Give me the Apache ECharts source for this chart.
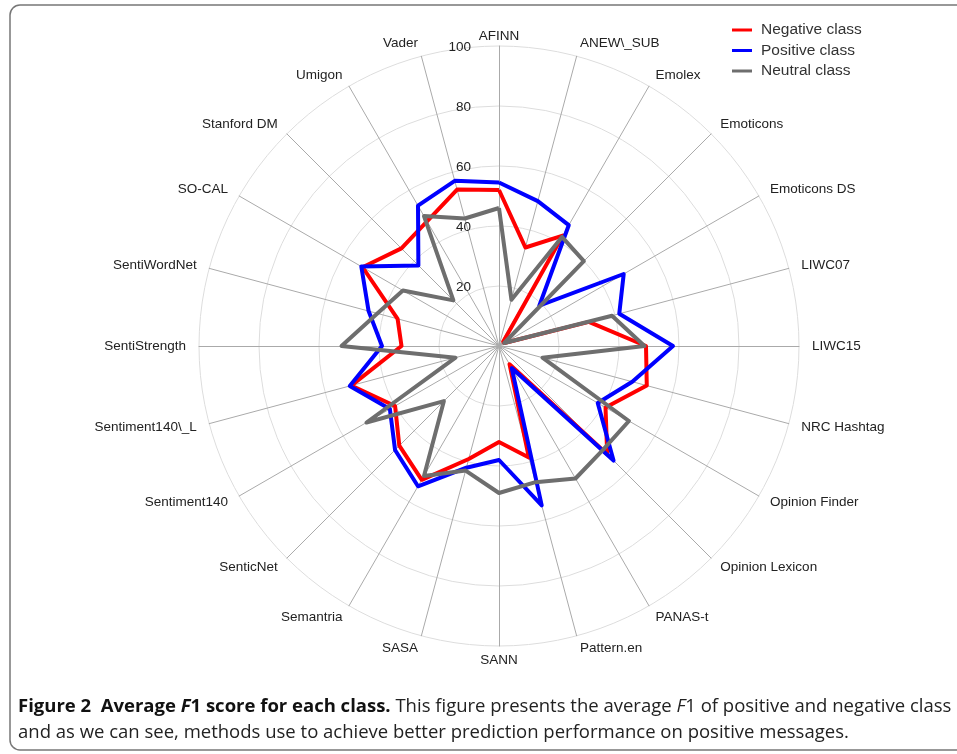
<!DOCTYPE html>
<html>
<head>
<meta charset="utf-8">
<script src="https://cdn.jsdelivr.net/npm/echarts@6/dist/echarts.min.js"></script>
<style>
  html, body { margin: 0; padding: 0; background: #fff; }
  #chart { width: 957px; height: 754px; }
</style>
</head>
<body>
<div id="chart"></div>
<script>
// methods, clockwise from the top (as in the figure)
const methods = ['AFINN', 'ANEW\\_SUB', 'Emolex', 'Emoticons', 'Emoticons DS', 'LIWC07', 'LIWC15',
  'NRC Hashtag', 'Opinion Finder', 'Opinion Lexicon', 'PANAS-t', 'Pattern.en', 'SANN', 'SASA',
  'Semantria', 'SenticNet', 'Sentiment140', 'Sentiment140\\_L', 'SentiStrength', 'SentiWordNet',
  'SO-CAL', 'Stanford DM', 'Umigon', 'Vader']
const negative = [52, 34, 42.5, 2, 2, 31, 49, 51, 41, 51, 7, 38.5, 32, 39, 51.5, 47, 40, 51, 32.5, 35, 52.5, 46, 48, 54]
const positive = [54.5, 50, 46.5, 19, 48, 41.5, 58, 46, 38, 54, 8.5, 55, 38, 42, 54, 49, 42, 51.5, 39, 45, 53, 38, 54, 57]
const neutral = [46, 16, 42, 40, 2, 39, 48.5, 15, 50, 49, 51, 47, 49, 43, 50, 26, 51, 15, 52.5, 42, 37, 21.5, 50, 44]
const ticks = [20, 40, 60, 80, 100]

// echarts radar runs counter-clockwise, so flip the order but keep the first one on top
const order = [0]
for (let i = methods.length - 1; i > 0; i--) order.push(i)
const pick = (arr) => order.map((i) => arr[i])

const chart = echarts.init(document.getElementById('chart'), null, { renderer: 'canvas' })
const TextColor = '#222'

const indicator = pick(methods).map((name, k) => {
  const item = { name: name, min: 0, max: ticks[ticks.length - 1], nameGap: 13 }
  if (name === 'AFINN') item.nameGap = 3
  if (name === 'SANN') item.nameGap = 7
  if (k === 0) {
    // only the vertical axis carries the numbers
    item.axisLabel = {
      show: true,
      color: TextColor,
      fontSize: 13.5,
      fontFamily: 'Liberation Sans',
      margin: 28,
      showMinLabel: false,
      verticalAlign: 'top',
      padding: [-6, 0, 0, 0]
    }
  }
  return item
})

const option = {
  animation: false,
  legend: {
    orient: 'vertical',
    left: 727,
    top: 17,
    itemWidth: 20,
    itemHeight: 3,
    itemGap: 4.5,
    icon: 'rect',
    data: ['Negative class', 'Positive class', 'Neutral class'],
    textStyle: { color: '#333', fontSize: 15.5, fontFamily: 'Liberation Sans', padding: [0, 0, 0, 4] }
  },
  radar: {
    center: [499, 346],
    radius: 300,
    shape: 'circle',
    splitNumber: ticks.length,
    startAngle: 90,
    nameGap: 13,
    indicator: indicator,
    axisName: { color: TextColor, fontSize: 13.5, fontFamily: 'Liberation Sans' },
    axisLine: { lineStyle: { color: '#aaa', width: 1 } },
    splitLine: { lineStyle: { color: '#ddd', width: 1 } },
    splitArea: { show: false },
    axisTick: { show: false },
    axisLabel: { show: false }
  },
  series: [
    {
      type: 'radar',
      symbol: 'none',
      data: [
        { name: 'Negative class', value: pick(negative), lineStyle: { color: '#ff0000', width: 4 }, itemStyle: { color: '#ff0000' } },
        { name: 'Positive class', value: pick(positive), lineStyle: { color: '#0000ff', width: 4 }, itemStyle: { color: '#0000ff' } },
        { name: 'Neutral class', value: pick(neutral), lineStyle: { color: '#6e6e6e', width: 4 }, itemStyle: { color: '#6e6e6e' } }
      ]
    }
  ],
  graphic: [
    {
      type: 'rect',
      shape: { x: 10, y: 5, width: 980, height: 745, r: 10 },
      style: { fill: 'none', stroke: '#777', lineWidth: 1.5 },
      silent: true
    },
    {
      type: 'text',
      left: 18,
      top: 697,
      style: {
        text: '{b|Figure 2  Average }{bi|F}{b|1 score for each class.}{n| This figure presents the average }{i|F}{n|1 of positive and negative class}\n{n|and as we can see, methods use to achieve better prediction performance on positive messages.}',
        rich: {
          b: { fontFamily: 'Open Sans', fontWeight: 'bold', fontSize: 18.5, fill: '#111', lineHeight: 26 },
          bi: { fontFamily: 'Open Sans', fontWeight: 'bold', fontStyle: 'italic', fontSize: 18.5, fill: '#111', lineHeight: 26 },
          n: { fontFamily: 'Open Sans', fontSize: 18.5, fill: '#222', lineHeight: 26 },
          i: { fontFamily: 'Open Sans', fontStyle: 'italic', fontSize: 18.5, fill: '#222', lineHeight: 26 }
        }
      }
    }
  ]
}

chart.setOption(option)
window.addEventListener('resize', function () {
  chart.resize()
})
</script>
</body>
</html>
